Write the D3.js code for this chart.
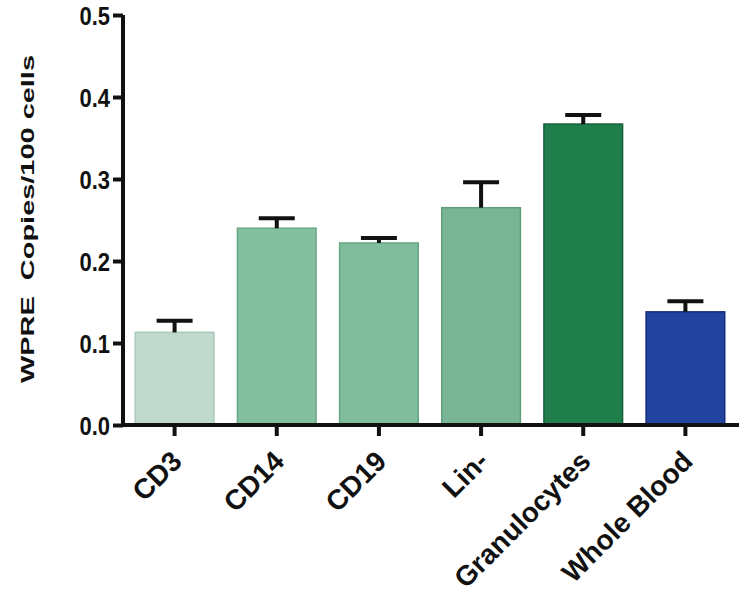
<!DOCTYPE html>
<html>
<head>
<meta charset="utf-8">
<script src="https://cdn.jsdelivr.net/npm/d3@7"></script>
<style>
  html, body { margin: 0; padding: 0; background: #fff; }
  svg { display: block; }
  text { font-family: "Liberation Sans", Arial, sans-serif; font-weight: bold; fill: #111; }
</style>
</head>
<body>
<svg id="chart" width="739" height="596"></svg>
<script>
const categories = ["CD3", "CD14", "CD19", "Lin-", "Granulocytes", "Whole Blood"];
const means = [0.113, 0.240, 0.222, 0.265, 0.367, 0.138];
const errors = [0.014, 0.012, 0.006, 0.031, 0.011, 0.013];
const colors = ["#c0dacd", "#84c0a0", "#80bd9c", "#78b594", "#1f7e4b", "#2343a0"];
const strokes = ["#a9c9bb", "#6aa887", "#67a583", "#5f9d7b", "#155f37", "#172f7a"];
const yTicks = [0.0, 0.1, 0.2, 0.3, 0.4, 0.5];
const yTitle = "WPRE\u00A0 Copies/100 cells";

const svg = d3.select("#chart");
const x0 = 123, x1 = 737, yBase = 425, yTop = 15;

const x = d3.scaleBand().domain(categories).range([x0, x1]).paddingInner(0.23).paddingOuter(0.12);
const y = d3.scaleLinear().domain([0, 0.5]).range([yBase, yTop]);

// bars
svg.append("g").selectAll("rect").data(categories).join("rect")
  .attr("x", d => x(d))
  .attr("width", x.bandwidth())
  .attr("y", (d, i) => y(means[i]))
  .attr("height", (d, i) => y(0) - y(means[i]))
  .attr("fill", (d, i) => colors[i])
  .attr("stroke", (d, i) => strokes[i])
  .attr("stroke-width", 1.5);

// error bars
const capW = 36;
const eb = svg.append("g").attr("stroke", "#111").attr("stroke-width", 4);
categories.forEach((c, i) => {
  const cx = x(c) + x.bandwidth() / 2;
  eb.append("line").attr("x1", cx).attr("x2", cx)
    .attr("y1", y(means[i])).attr("y2", y(means[i] + errors[i]));
  eb.append("line").attr("x1", cx - capW / 2).attr("x2", cx + capW / 2)
    .attr("y1", y(means[i] + errors[i])).attr("y2", y(means[i] + errors[i]));
});

// y axis
const yAxis = svg.append("g").attr("transform", `translate(${x0},0)`)
  .call(d3.axisLeft(y).tickValues(yTicks).tickFormat(d3.format(".1f")).tickSize(10).tickPadding(3));
yAxis.select(".domain").attr("stroke", "#111").attr("stroke-width", 4)
  .attr("d", `M0,${yTop}V${yBase + 2}`);
yAxis.selectAll(".tick line").attr("stroke", "#111").attr("stroke-width", 4);
yAxis.selectAll(".tick text")
  .attr("font-size", 22)
  .attr("fill", "#111")
  .attr("dy", null)
  .attr("y", 0)
  .attr("transform", "translate(0,9) scale(1,1.2)");

// x axis
const xAxis = svg.append("g").attr("transform", `translate(0,${yBase})`)
  .call(d3.axisBottom(x).tickSize(11).tickPadding(0));
xAxis.select(".domain").attr("stroke", "#111").attr("stroke-width", 4)
  .attr("d", `M${x0 - 2},0H739`);
xAxis.selectAll(".tick line").attr("stroke", "#111").attr("stroke-width", 4);
xAxis.selectAll(".tick text")
  .attr("font-size", 28)
  .attr("fill", "#111")
  .attr("text-anchor", "end")
  .attr("dy", null)
  .attr("y", 0)
  .attr("transform", "translate(9,38) rotate(-45)");

// y title
svg.append("text")
  .attr("transform", "translate(34,219) rotate(-90)")
  .attr("text-anchor", "middle")
  .attr("font-size", 19)
  .attr("textLength", 328)
  .attr("lengthAdjust", "spacingAndGlyphs")
  .text(yTitle);
</script>
</body>
</html>
